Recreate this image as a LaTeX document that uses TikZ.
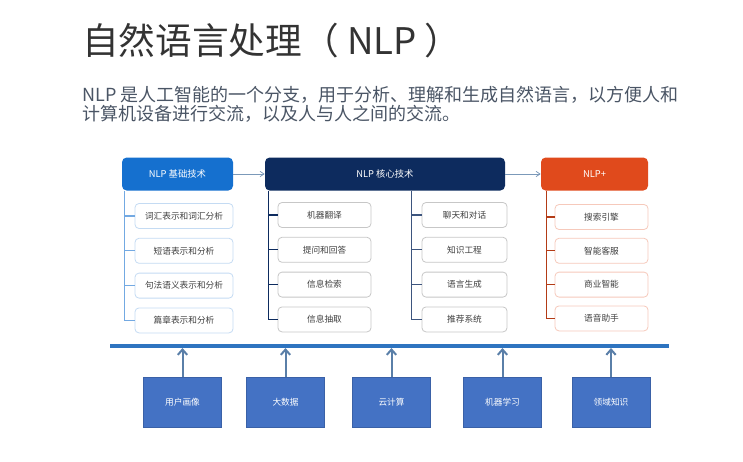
\documentclass[tikz,border=0pt]{standalone}
\usepackage{fontspec}
\setmainfont{Noto Sans CJK SC}
\usetikzlibrary{arrows.meta,positioning,calc}
\definecolor{basicblue}{HTML}{1570CF}
\definecolor{corenavy}{HTML}{0D2B5E}
\definecolor{plusred}{HTML}{E04A1C}
\definecolor{subgray}{HTML}{4A5565}
\definecolor{boxblue}{HTML}{4472C4}
\definecolor{busblue}{HTML}{2E74C0}
\definecolor{arrowgray}{HTML}{5A7FA8}

\begin{document}
\begin{tikzpicture}[
  x=0.75pt, y=-0.75pt,
  head/.style={
    rounded corners=3.5pt,
    minimum height=24.75pt,
    text=white,
    font=\fontsize{7}{8}\selectfont
  },
  item/.style={
    draw=#1,
    fill=white,
    line width=0.6pt,
    rounded corners=3pt,
    minimum height=18.75pt,
    text=black!75,
    font=\fontsize{6.5}{7}\selectfont
  },
  item/.default={black!22},
  trunk/.style={line width=0.9pt},
  harrow/.style={draw=arrowgray!80, line width=0.6pt, -{Straight Barb[length=3pt,width=4pt]}},
  base/.style={
    fill=boxblue,
    draw=boxblue!85!black,
    line width=0.5pt,
    minimum width=58.5pt,
    minimum height=37.5pt,
    text=white,
    font=\fontsize{6.5}{7}\selectfont
  },
  uparrow/.style={draw=arrowgray, line width=1.5pt, -{Straight Barb[length=4pt,width=7pt]}}
]
\useasboundingbox (0,0) rectangle (743,461);

% title and text
\node[anchor=west, inner sep=0pt, font=\fontsize{27.5}{29}\selectfont, text=black!80] (title) at (82,41) {自然语言处理（ NLP ）};
\node[anchor=north west, inner sep=0pt, align=left, font=\fontsize{13.5}{14}\selectfont, text=subgray] (intro) at (82,86)
{NLP 是人工智能的一个分支，用于分析、理解和生成自然语言，以方便人和\\计算机设备进行交流，以及人与人之间的交流。};

% headers
\node[head, fill=basicblue, minimum width=83.25pt] (h1) at (177.5,174) {NLP 基础技术};
\node[head, fill=corenavy, minimum width=180pt] (h2) at (385,174) {NLP 核心技术};
\node[head, fill=plusred, minimum width=80.25pt] (h3) at (594.5,174) {NLP+};

\draw[harrow] (h1) -- (h2);
\draw[harrow] (h2) -- (h3);

% basic column
\node[item=basicblue!25, minimum width=73.5pt] (a1) at (184,216) {词汇表示和词汇分析};
\node[item=basicblue!25, minimum width=73.5pt, below=6.75pt of a1] (a2) {短语表示和分析};
\node[item=basicblue!25, minimum width=73.5pt, below=6.75pt of a2] (a3) {句法语义表示和分析};
\node[item=basicblue!25, minimum width=73.5pt, below=6.75pt of a3] (a4) {篇章表示和分析};

% core columns
\node[item, minimum width=69.75pt] (b1) at (324.5,215) {机器翻译};
\node[item, minimum width=69.75pt, below=6.75pt of b1] (b2) {提问和回答};
\node[item, minimum width=69.75pt, below=6.75pt of b2] (b3) {信息检索};
\node[item, minimum width=69.75pt, below=6.75pt of b3] (b4) {信息抽取};

\node[item, minimum width=63.75pt] (c1) at (464.5,215) {聊天和对话};
\node[item, minimum width=63.75pt, below=6.75pt of c1] (c2) {知识工程};
\node[item, minimum width=63.75pt, below=6.75pt of c2] (c3) {语言生成};
\node[item, minimum width=63.75pt, below=6.75pt of c3] (c4) {推荐系统};

% plus column
\node[item=plusred!30, minimum width=69.75pt] (d1) at (601.5,217) {搜索引擎};
\node[item=plusred!30, minimum width=69.75pt, below=6pt of d1] (d2) {智能客服};
\node[item=plusred!30, minimum width=69.75pt, below=6pt of d2] (d3) {商业智能};
\node[item=plusred!30, minimum width=69.75pt, below=6pt of d3] (d4) {语音助手};

\foreach \i in {1,...,4} {
  \draw[trunk, draw=basicblue!60] ([xshift=-7.5pt]a1.west |- h1.south) |- (a\i.west);
  \draw[trunk, draw=corenavy] ([xshift=-7pt]b1.west |- h2.south) |- (b\i.west);
  \draw[trunk, draw=corenavy!80] ([xshift=-7.5pt]c1.west |- h2.south) |- (c\i.west);
  \draw[trunk, draw=plusred!80!black] ([xshift=-6pt]d1.west |- h3.south) |- (d\i.west);
}

% bus and supports
\coordinate (busL) at (110,346);
\coordinate (busR) at (669,346);
\draw[busblue, line width=3pt] (busL) -- (busR);

\foreach \x/\n/\t in {182.5/e1/用户画像, 285.5/e2/大数据, 391.5/e3/云计算, 502.5/e4/机器学习, 611/e5/领域知识} {
  \node[base] (\n) at (\x,402) {\t};
  \draw[uparrow] (\n.north) -- ([yshift=-1.5pt]\n.north |- busL);
}

\end{tikzpicture}
\end{document}
